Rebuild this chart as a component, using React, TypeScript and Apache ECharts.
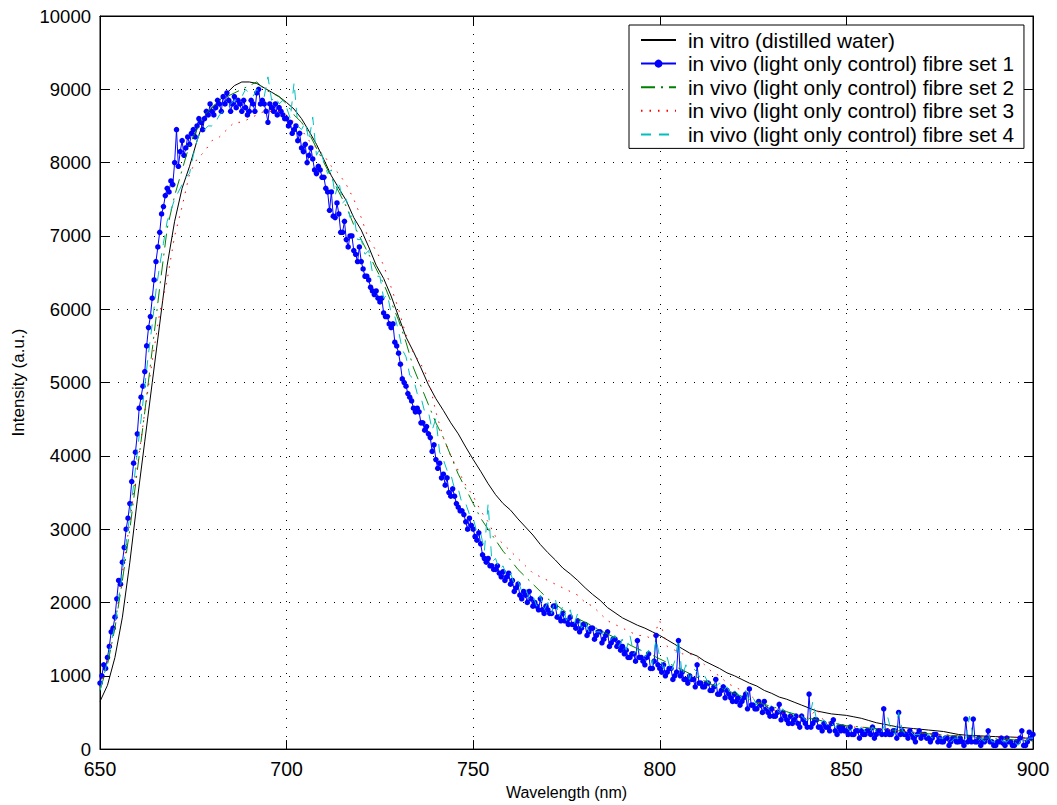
import React, { useEffect, useRef } from "react";
import * as echarts from "echarts";

// Sampling of the spectra (nm)
const WL_START = 650;
const HALF_STEP = 0.5;
const FINE_STEP = 1;
const COARSE_STEP = 2;

const xTickInterval = 50;
const yTickInterval = 1000;
const xMin = 650;
const xMax = 900;
const yMin = 0;
const yMax = 10000;

const seriesNames = [
  "in vitro (distilled water)",
  "in vivo (light only control) fibre set 1",
  "in vivo (light only control) fibre set 2",
  "in vivo (light only control) fibre set 3",
  "in vivo (light only control) fibre set 4",
];

// in vitro, 2 nm steps from 650
const inVitro = [
  650, 870, 1250, 1800, 2550, 3400, 4200, 5000, 5800, 6600,
  7200, 7650, 7950, 8300, 8600, 8750, 8850, 8950, 9050, 9100,
  9100, 9080, 9020, 8960, 8900, 8820, 8730, 8600, 8430, 8250,
  8040, 7820, 7650, 7480, 7250, 7080, 6850, 6600, 6420, 6180,
  5900, 5620, 5420, 5200, 4970, 4780, 4620, 4450, 4300, 4120,
  3950, 3790, 3620, 3470, 3350, 3260, 3140, 3030, 2920, 2790,
  2680, 2580, 2470, 2390, 2300, 2200, 2110, 2030, 1930, 1860,
  1790, 1740, 1690, 1650, 1600, 1550, 1490, 1430, 1370, 1310,
  1270, 1200, 1150, 1100, 1040, 1000, 950, 900, 860, 800,
  760, 710, 680, 640, 600, 560, 520, 500, 480, 470,
  460, 440, 420, 390, 360, 340, 320, 300, 290, 280,
  270, 260, 250, 240, 220, 200, 190, 185, 180, 175,
  170, 165, 165, 160, 150, 150,
];

// fibre set 1, 0.5 nm steps from 650
const fibreSet1 = [
  900, 1000, 1150, 1100, 1250, 1400, 1600, 1650, 1800, 2050,
  2300, 2250, 2550, 2750, 3000, 3150, 3350, 3650, 3900, 4050,
  4300, 4650, 4800, 4950, 5150, 5500, 5750, 5900, 6150, 6400,
  6650, 6850, 7050, 7300, 7400, 7550, 7650, 7600, 7750, 7700,
  8000, 8450, 7950, 8150, 8300, 8100, 8200, 8350, 8250, 8400,
  8450, 8350, 8500, 8600, 8550, 8450, 8600, 8700, 8650, 8800,
  8700, 8650, 8750, 8850, 8800, 8700, 8900, 8800, 8950, 8850,
  8700, 8800, 8900, 8750, 8850, 8800, 8700, 8850, 8750, 8650,
  8700, 8850, 8800, 8700, 8950, 9000, 8800, 8850, 8800, 8700,
  8550, 8800, 8750, 8700, 8800, 8650, 8750, 8700, 8650, 8600,
  8600, 8500, 8550, 8400, 8450, 8500, 8300, 8400, 8200, 8150,
  8250, 8000, 8100, 8200, 8050, 7900, 7850, 7950, 7900, 7800,
  7800, 7650, 7600, 7350, 7600, 7270, 7250, 7450, 7300, 7050,
  7050, 7200, 6950, 6850, 7000, 7000, 6800, 6750, 6650, 6850,
  6650, 6550, 6450, 6450, 6400, 6300, 6250, 6200, 6250, 6150,
  6100, 6150, 5950, 5900, 5900, 5800, 5750, 5800, 5550, 5500,
  5400, 5250, 5050, 5000, 4950, 4850, 4800, 4750, 4650, 4600,
  4650, 4600, 4450, 4450, 4350, 4400, 4300, 4250, 4060, 4150,
  3950, 3830, 3900, 3700, 3750, 3600, 3700, 3500, 3450, 3550,
  3450, 3350, 3300, 3250, 3250, 3200, 3100, 3000, 3150, 3050,
  3000, 2900, 2850, 2950, 2800, 2650, 2600, 2550, 2600, 2500,
  2500, 2450, 2450, 2500, 2400, 2350, 2420, 2300, 2350, 2400,
  2250, 2300, 2150, 2200, 2250, 2100, 2050, 2150, 2100, 2000,
  2150, 2050, 1950, 2000, 1950, 1900, 2050, 1900, 1850, 1950,
  1900, 1850, 1850, 1950, 1950, 1800, 1800, 1750, 1850, 1750,
  1750, 1700, 1800, 1700, 1700, 1650, 1750, 1600, 1650, 1700,
  1700, 1550, 1600, 1650, 1650, 1500, 1550, 1600, 1600, 1450,
  1500, 1550, 1600, 1400, 1450, 1500, 1500, 1400, 1450, 1350,
  1400, 1300, 1350, 1250, 1250, 1300, 1300, 1200, 1480, 1250,
  1250, 1200, 1150, 1250, 1300, 1100, 1100, 1200, 1550, 1150,
  1100, 1050, 1150, 1000, 1050, 1100, 1100, 950, 1000, 1050,
  1480, 1000, 1050, 950, 950, 900, 1000, 950, 950, 850,
  1150, 900, 900, 850, 850, 900, 900, 800, 800, 850,
  950, 750, 750, 800, 850, 700, 800, 750, 700, 650,
  750, 650, 700, 600, 650, 700, 750, 550, 820, 600,
  600, 550, 550, 650, 600, 500, 650, 550, 500, 450,
  550, 450, 450, 500, 610, 400, 500, 450, 400, 350,
  450, 350, 400, 450, 350, 300, 450, 400, 350, 300,
  750, 300, 350, 400, 400, 300, 300, 250, 350, 300,
  300, 250, 350, 400, 250, 200, 300, 250, 300, 250,
  250, 200, 300, 200, 200, 250, 250, 150, 250, 200,
  200, 250, 250, 200, 300, 150, 200, 250, 250, 200,
  550, 200, 250, 200, 200, 250, 250, 150, 500, 200,
  250, 200, 200, 150, 250, 200, 150, 100, 200, 250,
  150, 200, 200, 150, 150, 100, 150, 200, 200, 100,
  150, 100, 100, 150, 150, 50, 100, 150, 150, 100,
  100, 150, 100, 50, 410, 100, 150, 100, 410, 100,
  100, 150, 50, 100, 100, 150, 250, 100, 100, 50,
  50, 100, 100, 150, 80, 50, 150, 100, 100, 50,
  50, 100, 100, 150, 250, 50, 50, 100, 230, 150,
  200,
];

// fibre set 2, 2 nm steps from 650
const fibreSet2 = [
  800, 1150, 1650, 2300, 3000, 3800, 4600, 5450, 6300, 7100,
  7550, 7900, 8250, 8450, 8650, 8750, 8850, 8900, 8950, 9000,
  9050, 9100, 9000, 8950, 8900, 8800, 8650, 8550, 8400, 8200,
  8000, 7800, 7600, 7400, 7150, 6950, 6750, 6550, 6350, 6100,
  5850, 5550, 5200, 4950, 4700, 4450, 4250, 4000, 3750, 3550,
  3350, 3150, 3000, 2850, 2700, 2580, 2450, 2350, 2250, 2150,
  2050, 1980, 1900, 1830, 1780, 1730, 1680, 1620, 1570, 1520,
  1480, 1420, 1370, 1330, 1280, 1230, 1180, 1130, 1080, 1030,
  980, 930, 880, 840, 800, 760, 720, 680, 640, 610,
  580, 550, 510, 480, 450, 420, 400, 380, 360, 340,
  320, 310, 300, 290, 280, 270, 260, 250, 240, 230,
  220, 210, 200, 190, 180, 180, 170, 160, 150, 150,
  140, 130, 130, 120, 120, 110,
];

// fibre set 3, 2 nm steps from 650
const fibreSet3 = [
  850, 1200, 1700, 2400, 3100, 3850, 4600, 5300, 5950, 6400,
  7000, 7400, 7850, 8050, 8150, 8300, 8350, 8450, 8550, 8550,
  8600, 8650, 8700, 8700, 8700, 8650, 8550, 8450, 8300, 8200,
  8100, 7950, 7850, 7700, 7500, 7250, 6950, 6800, 6600, 6300,
  6000, 5650, 5400, 5250, 5050, 4600, 4250, 4000, 3800, 3600,
  3450, 3250, 3100, 2900, 2800, 2700, 2600, 2500, 2400, 2350,
  2300, 2250, 2200, 2150, 2100, 2000, 1950, 1850, 1750, 1700,
  1650, 1600, 1550, 1550, 1500, 1750, 1400, 1350, 1300, 1300,
  1250, 1150, 1050, 1000, 900, 850, 800, 750, 650, 600,
  550, 500, 480, 450, 430, 420, 550, 380, 350, 330,
  310, 300, 300, 290, 280, 270, 260, 250, 240, 230,
  220, 210, 200, 200, 190, 180, 180, 170, 170, 160,
  160, 150, 150, 160, 150, 150,
];

// fibre set 4, 1 nm steps from 650
const fibreSet4 = [
  800, 1000, 1200, 1450, 1700, 2050, 2400, 2800, 3200, 3600,
  4050, 4500, 4950, 5400, 5800, 6250, 6600, 6900, 7200, 7350,
  7500, 7600, 7700, 7800, 7850, 8100, 8300, 8450, 8450, 8500,
  8500, 8550, 8650, 8700, 8750, 8800, 8850, 8850, 8900, 9000,
  8950, 8900, 9000, 8950, 8900, 9170, 8850, 8900, 8800, 8850,
  8750, 8600, 9090, 8500, 8450, 8550, 8300, 8620, 8100, 8200,
  8000, 7850, 7900, 7550, 7750, 7450, 7500, 7250, 7300, 6950,
  6950, 6750, 6800, 6500, 6450, 6450, 6150, 6200, 5950, 5900,
  5700, 5450, 5350, 5100, 5050, 4850, 4800, 4600, 4600, 4350,
  4510, 4050, 3950, 3800, 3750, 3550, 3550, 3350, 3350, 3200,
  3150, 2950, 2950, 2700, 3350, 2550, 2600, 2450, 2500, 2350,
  2400, 2250, 2300, 2150, 2200, 2050, 2100, 1950, 2100, 1900,
  2000, 1850, 2050, 1800, 1950, 1750, 1900, 1700, 1850, 1650,
  1750, 1600, 1650, 1600, 1600, 1550, 1550, 1500, 1550, 1400,
  1500, 1350, 1550, 1300, 1350, 1350, 1250, 1350, 1150, 1500,
  1250, 1100, 1250, 1050, 1200, 1500, 1000, 1150, 950, 1100,
  1050, 950, 1000, 900, 950, 850, 900, 800, 850, 750,
  800, 750, 700, 800, 650, 700, 600, 650, 600, 550,
  600, 550, 500, 550, 450, 500, 450, 400, 450, 400,
  400, 650, 400, 350, 400, 300, 350, 300, 350, 300,
  300, 250, 300, 250, 300, 250, 200, 300, 250, 200,
  300, 450, 250, 200, 500, 250, 200, 250, 200, 200,
  200, 150, 200, 150, 200, 150, 150, 200, 100, 150,
  150, 100, 150, 450, 150, 100, 150, 100, 200, 100,
  100, 150, 100, 100, 150, 100, 50, 150, 100, 150,
  150,
];

const toPoints = (vals: number[], step: number) =>
  vals.map((v, i) => [WL_START + i * step, v]);

const FONT = "Liberation Sans, Arial, Helvetica, sans-serif";

export default function App() {
  const ref = useRef<HTMLDivElement>(null);

  useEffect(() => {
    if (!ref.current) return;
    const chart = echarts.init(ref.current, undefined, { renderer: "svg" });

    const baseX = {
      type: "value" as const,
      min: xMin,
      max: xMax,
      interval: xTickInterval,
      axisLine: { show: true, onZero: false, lineStyle: { color: "#000", width: 1 } },
      axisTick: { show: true, inside: true, length: 9, lineStyle: { color: "#000" } },
    };
    const baseY = {
      type: "value" as const,
      min: yMin,
      max: yMax,
      interval: yTickInterval,
      axisLine: { show: true, onZero: false, lineStyle: { color: "#000", width: 1 } },
      axisTick: { show: true, inside: true, length: 9, lineStyle: { color: "#000" } },
    };

    const legendData = seriesNames.map((name, i) =>
      i === 1 ? { name } : { name, itemStyle: { opacity: 0 } }
    );

    const option: any = {
      animation: false,
      backgroundColor: "#fff",
      textStyle: { fontFamily: FONT },
      grid: {
        left: 100,
        right: 24,
        top: 16,
        bottom: 53,
        show: true,
        borderColor: "#000",
        borderWidth: 1,
        backgroundColor: "transparent",
      },
      legend: {
        show: true,
        orient: "vertical",
        left: 629,
        top: 25,
        padding: [4, 10, 3, 11],
        itemGap: 1.6,
        itemWidth: 35,
        itemHeight: 10,
        backgroundColor: "#fff",
        borderColor: "#000",
        borderWidth: 1,
        data: legendData,
        textStyle: {
          fontFamily: FONT,
          fontSize: 20.8,
          color: "#000",
          lineHeight: 22,
          padding: [0, 0, 0, 7],
        },
      },
      xAxis: [
        {
          ...baseX,
          position: "bottom",
          name: "Wavelength (nm)",
          nameLocation: "middle",
          nameGap: 31,
          nameTextStyle: { fontFamily: FONT, fontSize: 16, color: "#000" },
          axisLabel: {
            show: true,
            fontFamily: FONT,
            fontSize: 19.5,
            color: "#000",
            margin: 10,
            formatter: (v: number) => String(v),
          },
          splitLine: { show: true, lineStyle: { color: "#000", width: 1, type: [1, 8] } },
        },
        {
          ...baseX,
          position: "top",
          axisLabel: { show: false },
          splitLine: { show: false },
        },
      ],
      yAxis: [
        {
          ...baseY,
          position: "left",
          name: "Intensity (a.u.)",
          nameLocation: "middle",
          nameGap: 73,
          nameRotate: 90,
          nameTextStyle: { fontFamily: FONT, fontSize: 17, color: "#000" },
          axisLabel: {
            show: true,
            fontFamily: FONT,
            fontSize: 18.5,
            color: "#000",
            margin: 9,
            formatter: (v: number) => String(v),
          },
          splitLine: { show: true, lineStyle: { color: "#000", width: 1, type: [1, 8] } },
        },
        {
          ...baseY,
          position: "right",
          axisLabel: { show: false },
          splitLine: { show: false },
        },
      ],
      series: [
        {
          name: seriesNames[0],
          type: "line",
          data: toPoints(inVitro, COARSE_STEP),
          symbol: "none",
          color: "#000",
          lineStyle: { color: "#000", width: 1 },
          z: 2,
        },
        {
          name: seriesNames[1],
          type: "line",
          data: toPoints(fibreSet1, HALF_STEP),
          symbol: "circle",
          symbolSize: 5.5,
          showAllSymbol: true,
          color: "#0000ff",
          itemStyle: { color: "#0000ff" },
          lineStyle: { color: "#0000ff", width: 1 },
          z: 3,
        },
        {
          name: seriesNames[2],
          type: "line",
          data: toPoints(fibreSet2, COARSE_STEP),
          symbol: "none",
          color: "#008000",
          lineStyle: { color: "#008000", width: 1, type: [14, 6, 2, 6] },
          z: 4,
        },
        {
          name: seriesNames[3],
          type: "line",
          data: toPoints(fibreSet3, COARSE_STEP),
          symbol: "none",
          color: "#ff0000",
          lineStyle: { color: "#ff0000", width: 1, type: [1.5, 7] },
          z: 5,
        },
        {
          name: seriesNames[4],
          type: "line",
          data: toPoints(fibreSet4, FINE_STEP),
          symbol: "none",
          color: "#00bfbf",
          lineStyle: { color: "#00bfbf", width: 1, type: [10, 8] },
          z: 6,
        },
      ],
    };

    chart.setOption(option);
    return () => chart.dispose();
  }, []);

  return (
    <div
      ref={ref}
      style={{ position: "fixed", left: 0, top: 0, width: 1057, height: 805, background: "#fff" }}
    />
  );
}
